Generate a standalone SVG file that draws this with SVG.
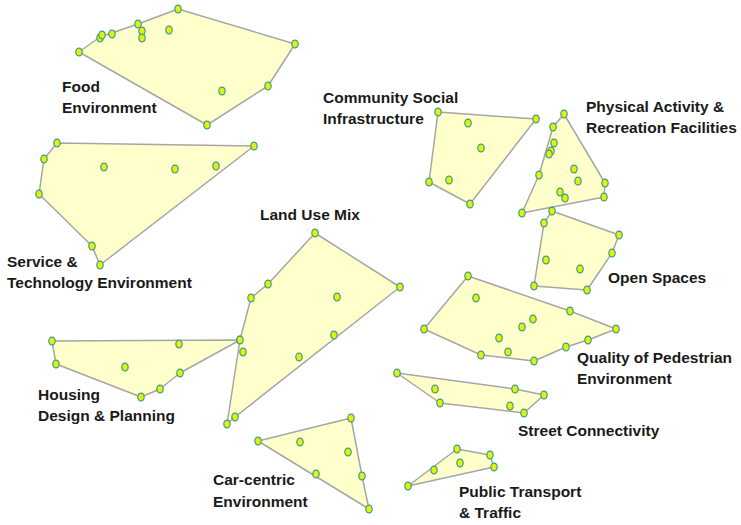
<svg xmlns="http://www.w3.org/2000/svg" width="741" height="525" viewBox="0 0 741 525">
<style>
.hull{fill:#FFFFCC;stroke:#A6A6A6;stroke-width:1.5;stroke-linejoin:round}
.pt{fill:#E6F000;stroke:#3B9C9C;stroke-width:1.2}
.lbl{font-family:"Liberation Sans",Arial,sans-serif;font-weight:bold;font-size:15.5px;fill:#1a1a1a}
</style>
<defs>
<ellipse id="d" rx="3.2" ry="3.9" class="pt"/>
</defs>
<rect width="741" height="525" fill="#FFFFFF"/>
<g id="food">
<polygon class="hull" points="79,52 100,37 138,24 178,9 295,44 268,86 207,125"/>
<use href="#d" x="178" y="9"/><use href="#d" x="295" y="44"/><use href="#d" x="268" y="86"/><use href="#d" x="207" y="125"/><use href="#d" x="79" y="52"/><use href="#d" x="100" y="38"/><use href="#d" x="102" y="35"/><use href="#d" x="112" y="34"/><use href="#d" x="138" y="24"/><use href="#d" x="142" y="31"/><use href="#d" x="142" y="38"/><use href="#d" x="169" y="30"/><use href="#d" x="222" y="91"/>
<text class="lbl" x="62" y="92">Food</text><text class="lbl" x="62" y="113">Environment</text>
</g>
<g id="service">
<polygon class="hull" points="57,143 254,146 100,265 92,246 39,194 44,159"/>
<use href="#d" x="57" y="143"/><use href="#d" x="254" y="146"/><use href="#d" x="44" y="159"/><use href="#d" x="39" y="194"/><use href="#d" x="92" y="246"/><use href="#d" x="100" y="265"/><use href="#d" x="104" y="167"/><use href="#d" x="175" y="169"/><use href="#d" x="216" y="166"/>
<text class="lbl" x="7" y="267">Service &amp;</text><text class="lbl" x="7" y="288">Technology Environment</text>
</g>
<g id="housing">
<polygon class="hull" points="52,341 240,340 180,373 160,389 141,397 56,364"/>
<use href="#d" x="52" y="341"/><use href="#d" x="240" y="340"/><use href="#d" x="179" y="344"/><use href="#d" x="56" y="364"/><use href="#d" x="125" y="367"/><use href="#d" x="180" y="373"/><use href="#d" x="160" y="389"/><use href="#d" x="141" y="397"/>
<text class="lbl" x="38" y="400">Housing</text><text class="lbl" x="38" y="421">Design &amp; Planning</text>
</g>
<g id="landuse">
<polygon class="hull" points="315,233 400,287 235,417 227,424 240,340 251,298 268,284"/>
<use href="#d" x="315" y="233"/><use href="#d" x="400" y="287"/><use href="#d" x="268" y="284"/><use href="#d" x="251" y="298"/><use href="#d" x="337" y="297"/><use href="#d" x="240" y="340"/><use href="#d" x="243" y="352"/><use href="#d" x="334" y="335"/><use href="#d" x="299" y="357"/><use href="#d" x="235" y="417"/><use href="#d" x="227" y="424"/>
<text class="lbl" x="260" y="220">Land Use Mix</text>
</g>
<g id="carcentric">
<polygon class="hull" points="258,441 351,418 362,476 369,509"/>
<use href="#d" x="351" y="418"/><use href="#d" x="258" y="441"/><use href="#d" x="300" y="442"/><use href="#d" x="348" y="452"/><use href="#d" x="316" y="474"/><use href="#d" x="362" y="476"/><use href="#d" x="369" y="509"/>
<text class="lbl" x="213" y="485">Car-centric</text><text class="lbl" x="213" y="507">Environment</text>
</g>
<g id="community">
<polygon class="hull" points="438,112 536,119 470,204 429,182"/>
<use href="#d" x="438" y="112"/><use href="#d" x="536" y="119"/><use href="#d" x="468" y="123"/><use href="#d" x="481" y="148"/><use href="#d" x="429" y="182"/><use href="#d" x="449" y="180"/><use href="#d" x="470" y="204"/>
<text class="lbl" x="323" y="103">Community Social</text><text class="lbl" x="323" y="124">Infrastructure</text>
</g>
<g id="physical">
<polygon class="hull" points="564,114 605,183 604,197 522,213 539,175 553,127"/>
<use href="#d" x="564" y="114"/><use href="#d" x="553" y="127"/><use href="#d" x="554" y="143"/><use href="#d" x="551" y="151"/><use href="#d" x="549" y="154"/><use href="#d" x="539" y="175"/><use href="#d" x="574" y="169"/><use href="#d" x="578" y="181"/><use href="#d" x="605" y="183"/><use href="#d" x="604" y="197"/><use href="#d" x="560" y="192"/><use href="#d" x="565" y="198"/><use href="#d" x="522" y="213"/>
<text class="lbl" x="586" y="112">Physical Activity &amp;</text><text class="lbl" x="586" y="133">Recreation Facilities</text>
</g>
<g id="openspaces">
<polygon class="hull" points="552,211 619,235 612,253 587,290 534,286 544,223"/>
<use href="#d" x="552" y="211"/><use href="#d" x="544" y="223"/><use href="#d" x="619" y="235"/><use href="#d" x="612" y="253"/><use href="#d" x="546" y="260"/><use href="#d" x="580" y="269"/><use href="#d" x="534" y="286"/><use href="#d" x="587" y="290"/>
<text class="lbl" x="608" y="283">Open Spaces</text>
</g>
<g id="pedestrian">
<polygon class="hull" points="468,276 570,311 616,329 588,340 566,347 534,361 481,355 424,329"/>
<use href="#d" x="468" y="276"/><use href="#d" x="476" y="298"/><use href="#d" x="570" y="311"/><use href="#d" x="616" y="329"/><use href="#d" x="533" y="319"/><use href="#d" x="522" y="327"/><use href="#d" x="424" y="329"/><use href="#d" x="499" y="338"/><use href="#d" x="588" y="340"/><use href="#d" x="566" y="347"/><use href="#d" x="508" y="352"/><use href="#d" x="481" y="355"/><use href="#d" x="534" y="361"/>
<text class="lbl" x="577" y="363">Quality of Pedestrian</text><text class="lbl" x="577" y="384">Environment</text>
</g>
<g id="street">
<polygon class="hull" points="397,373 515,389 544,395 524,413 440,403"/>
<use href="#d" x="397" y="373"/><use href="#d" x="435" y="389"/><use href="#d" x="515" y="389"/><use href="#d" x="544" y="395"/><use href="#d" x="440" y="403"/><use href="#d" x="510" y="406"/><use href="#d" x="524" y="413"/>
<text class="lbl" x="518" y="436">Street Connectivity</text>
</g>
<g id="transport">
<polygon class="hull" points="408,486 457,449 490,455 494,467"/>
<use href="#d" x="457" y="449"/><use href="#d" x="490" y="455"/><use href="#d" x="460" y="463"/><use href="#d" x="494" y="467"/><use href="#d" x="434" y="470"/><use href="#d" x="408" y="486"/>
<text class="lbl" x="459" y="497">Public Transport</text><text class="lbl" x="459" y="518">&amp; Traffic</text>
</g>
<g id="connectors"/>
</svg>
